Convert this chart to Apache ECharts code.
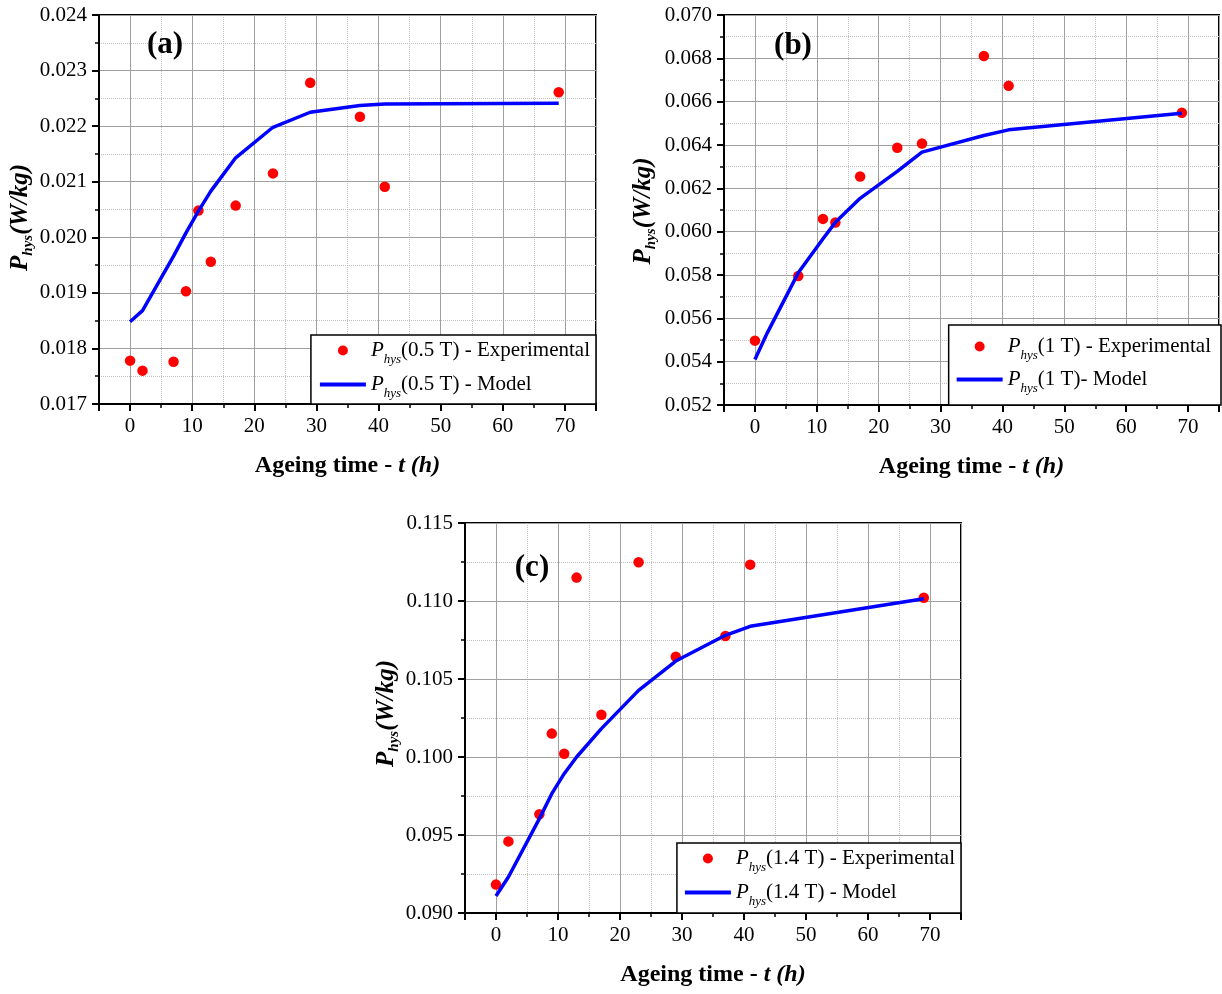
<!DOCTYPE html>
<html><head><meta charset="utf-8">
<script src="https://cdn.jsdelivr.net/npm/echarts@6/dist/echarts.min.js"></script>
<style>html,body{margin:0;padding:0;background:#fff}#c{width:1222px;height:994px}</style>
</head><body><div id="c"></div>
<script>
// ---------- data ----------
const tExpA = [0, 2, 7, 9, 11, 13, 17, 23, 29, 37, 41, 69];
const pExpA = [0.01778, 0.01760, 0.01776, 0.01903, 0.02048, 0.01956, 0.02057, 0.02115, 0.02278, 0.02217, 0.02091, 0.02261];
const tModA = [0, 2, 7, 9, 11, 13, 17, 23, 29, 37, 41, 69];
const pModA = [0.01848, 0.01868, 0.01966, 0.02008, 0.02047, 0.02083, 0.02143, 0.02198, 0.02225, 0.02237, 0.02240, 0.02241];

const tExpB = [0, 7, 11, 13, 17, 23, 27, 37, 41, 69];
const pExpB = [0.05497, 0.05795, 0.06059, 0.06042, 0.06255, 0.06387, 0.06407, 0.06811, 0.06673, 0.06549];
const tModB = [0, 2, 7, 11, 13, 17, 23, 27, 37, 41, 69];
const pModB = [0.05410, 0.05533, 0.05810, 0.05967, 0.06043, 0.06154, 0.06278, 0.06367, 0.06444, 0.06470, 0.06547];

const tExpC = [0, 2, 7, 9, 11, 13, 17, 23, 29, 37, 41, 69];
const pExpC = [0.09182, 0.09459, 0.09633, 0.10150, 0.10021, 0.11150, 0.10271, 0.11248, 0.10643, 0.10776, 0.11233, 0.11021];
const tModC = [0, 2, 7, 9, 11, 13, 17, 23, 29, 37, 41, 69];
const pModC = [0.09109, 0.09231, 0.09605, 0.09765, 0.09893, 0.10000, 0.10182, 0.10427, 0.10615, 0.10780, 0.10838, 0.11015];

const yRangeA = [0.017, 0.024];
const yRangeB = [0.052, 0.070];
const yRangeC = [0.090, 0.115];
const yStepA = 0.001, yStepB = 0.002, yStepC = 0.005;
const xRange = [-5, 75];
const xLabelTicks = [0, 10, 20, 30, 40, 50, 60, 70];

const panelLabels = ['(a)', '(b)', '(c)'];
const legendExp = ['(0.5 T) - Experimental', '(1 T) - Experimental', '(1.4 T) - Experimental'];
const legendMod = ['(0.5 T) - Model', '(1 T)- Model', '(1.4 T) - Model'];
const xName = ['Ageing time - ', 't (h)'];
const yName = ['P', 'hys', '(W/kg)'];

// ---------- layout ----------
const FONT = 'Liberation Serif';
const panels = [
  {grid: {left: 99, top: 15, width: 497, height: 389}, yr: yRangeA, ys: yStepA,
   exp: [tExpA, pExpA], mod: [tModA, pModA], nameGap: 62, namePad: [0, 16, 0, 0],
   legend: {right: 626, bottom: 590, padding: [0, 6, 4, 9], itemGap: 3}, label: [165, 45]},
  {grid: {left: 724, top: 15, width: 497, height: 390}, yr: yRangeB, ys: yStepB,
   exp: [tExpB, pExpB], mod: [tModB, pModB], nameGap: 65, namePad: [0, 2, 0, 0],
   legend: {right: 1, bottom: 589, padding: [6, 10, 10, 8], itemGap: 2}, label: [793, 46]},
  {grid: {left: 465, top: 523, width: 496, height: 390}, yr: yRangeC, ys: yStepC,
   exp: [tExpC, pExpC], mod: [tModC, pModC], nameGap: 62, namePad: [0, 0, 0, 9],
   legend: {right: 261, bottom: 81, padding: [0, 6, 5, 8], itemGap: 3}, label: [532, 568]}
];

const zip = (a, b) => a.map((v, i) => [v, b[i]]);
const subRich = (size) => ({
  p: {fontFamily: FONT, fontSize: size, fontStyle: 'italic', color: '#000', lineHeight: 32},
  s: {fontFamily: FONT, fontSize: 13, fontStyle: 'italic', color: '#000', lineHeight: 14, padding: [18, 0, 0, 0]},
  t: {fontFamily: FONT, fontSize: size, color: '#000', lineHeight: 32}
});

const grids = [], xAxes = [], yAxes = [], series = [], legends = [], graphics = [];
panels.forEach((P, i) => {
  grids.push(Object.assign({show: true, borderColor: '#000', borderWidth: 2, backgroundColor: 'transparent'}, P.grid));
  xAxes.push({
    gridIndex: i, type: 'value', min: xRange[0], max: xRange[1], splitNumber: 8, position: 'bottom', z: 1,
    axisLine: {show: true, onZero: false, lineStyle: {color: '#000', width: 2}},
    axisTick: {show: true, length: 7, lineStyle: {color: '#000', width: 2}},
    axisLabel: {margin: 12, fontFamily: FONT, fontSize: 21, color: '#000', showMinLabel: true, showMaxLabel: true,
      formatter: v => xLabelTicks.indexOf(v) >= 0 ? String(v) : ''},
    splitLine: {show: true, lineStyle: {color: '#a0a0a0', width: 1}},
    name: '{a|' + xName[0] + '}{b|' + xName[1] + '}', nameLocation: 'middle', nameGap: 50,
    nameTextStyle: {rich: {
      a: {fontFamily: FONT, fontSize: 24, fontWeight: 'bold', color: '#000'},
      b: {fontFamily: FONT, fontSize: 24, fontWeight: 'bold', fontStyle: 'italic', color: '#000'}}}
  });
  xAxes.push({
    gridIndex: i, type: 'value', min: xRange[0], max: xRange[1], interval: 5, position: 'bottom', z: 0,
    axisLine: {show: false, onZero: false},
    axisTick: {show: true, length: 4, lineStyle: {color: '#000', width: 1.5}},
    axisLabel: {show: false},
    splitLine: {show: true, lineStyle: {color: '#c0c0c0', width: 1, type: 'dotted'}}
  });
  yAxes.push({
    gridIndex: i, type: 'value', min: P.yr[0], max: P.yr[1], interval: P.ys, z: 1,
    axisLine: {show: true, onZero: false, lineStyle: {color: '#000', width: 2}},
    axisTick: {show: true, length: 7, lineStyle: {color: '#000', width: 2}},
    minorTick: {show: true, splitNumber: 2, length: 4, lineStyle: {color: '#000', width: 1.5}},
    splitLine: {show: true, lineStyle: {color: '#a0a0a0', width: 1}},
    minorSplitLine: {show: true, lineStyle: {color: '#c0c0c0', width: 1, type: 'dotted'}},
    axisLabel: {margin: 12, fontFamily: FONT, fontSize: 21, color: '#000', formatter: v => v.toFixed(3)},
    name: '{p|' + yName[0] + '}{s|' + yName[1] + '}{t|' + yName[2] + '}',
    nameLocation: 'middle', nameRotate: 90, nameGap: P.nameGap,
    nameTextStyle: {padding: P.namePad, rich: {
      p: {fontFamily: FONT, fontSize: 25, fontWeight: 'bold', fontStyle: 'italic', color: '#000', lineHeight: 30},
      s: {fontFamily: FONT, fontSize: 15, fontWeight: 'bold', fontStyle: 'italic', color: '#000', lineHeight: 15, padding: [15, 0, 0, 0]},
      t: {fontFamily: FONT, fontSize: 25, fontWeight: 'bold', fontStyle: 'italic', color: '#000', lineHeight: 30}}}
  });
  const nExp = 'Phys' + legendExp[i], nMod = 'Phys' + legendMod[i];
  series.push({type: 'scatter', name: nExp, xAxisIndex: 2 * i, yAxisIndex: i,
    data: zip(P.exp[0], P.exp[1]), symbol: 'circle', symbolSize: 10.5, itemStyle: {color: '#ff0000', opacity: 1}, z: 2});
  series.push({type: 'line', name: nMod, xAxisIndex: 2 * i, yAxisIndex: i,
    data: zip(P.mod[0], P.mod[1]), symbol: 'none', showSymbol: false,
    lineStyle: {color: '#0000ff', width: 3.5}, itemStyle: {color: '#0000ff'}, z: 3});
  legends.push(Object.assign({
    data: [{name: nExp, icon: 'circle'}, {name: nMod, icon: 'path://M0,0H46V4H0Z'}],
    orient: 'vertical', itemWidth: 46, itemHeight: 10, selectedMode: false, symbolKeepAspect: true,
    backgroundColor: '#fff', borderColor: '#000', borderWidth: 1.5, borderRadius: 0,
    formatter: n => '{p|P}{s|hys}{t|' + n.slice(4) + '}',
    textStyle: {fontFamily: FONT, fontSize: 21, color: '#000', rich: subRich(21)}
  }, P.legend));
  graphics.push({type: 'text', x: P.label[0], y: P.label[1], z: 10,
    style: {text: panelLabels[i], font: 'bold 31px "Liberation Serif"', fill: '#000', align: 'center', verticalAlign: 'middle', textAlign: 'center', textVerticalAlign: 'middle'}});
});

const chart = echarts.init(document.getElementById('c'), null, {renderer: 'canvas'});
chart.setOption({
  animation: false,
  backgroundColor: '#fff',
  grid: grids, xAxis: xAxes, yAxis: yAxes, series: series, legend: legends, graphic: graphics
});
</script></body></html>
